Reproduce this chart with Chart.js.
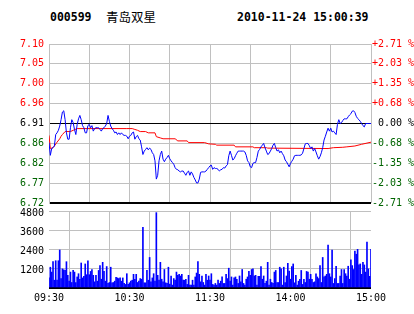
<!DOCTYPE html>
<html>
<head>
<meta charset="utf-8">
<script src="https://cdn.jsdelivr.net/npm/chart.js@4.4.1/dist/chart.umd.min.js"></script>
<style>
body { margin: 0; background: #fff; }
#wrap { position: relative; width: 414px; height: 314px; overflow: hidden; }
.title { position: absolute; top: 9px; font: bold 11.5px "DejaVu Sans Mono", monospace; line-height: 16px; color: #000; white-space: pre; }
canvas { position: absolute; left: 0; }
</style>
</head>
<body>
<div id="wrap">
  <div class="title" style="left:50px">000599</div>
  <div class="title" style="left:106px;font:12.5px 'Noto Sans CJK SC',sans-serif;line-height:16px">青岛双星</div>
  <div class="title" style="left:237px">2010-11-24 15:00:39</div>
  <canvas id="priceChart" width="414" height="184" style="top:30px"></canvas>
  <canvas id="volChart" width="414" height="114" style="top:200px"></canvas>
</div>
<script>
// Fechamento anterior e limites do eixo de preço
const prevClose = 6.91;
const priceMin = 6.7227;
const priceMax = 7.0973;

// Rótulos dos eixos (de baixo para cima)
const priceTickLabels = ['6.72', '6.77', '6.82', '6.86', '6.91', '6.96', '7.00', '7.05', '7.10'];
const pctTickLabels = ['-2.71 %', '-2.03 %', '-1.35 %', '-0.68 %', ' 0.00 %', '+0.68 %', '+1.35 %', '+2.03 %', '+2.71 %'];
const volTickLabels = ['', '1200', '2400', '3600', '4800'];
const timeTickMinutes = [0, 60, 120, 180, 240];
const timeTickLabels = ['09:30', '10:30', '11:30', '14:00', '15:00'];

// Preço minuto a minuto (0 = 09:30, 240 = 15:00)
const priceValues = [
  6.865, 6.835, 6.851, 6.853, 6.857, 6.884, 6.888, 6.894, 6.904, 6.919,
  6.937, 6.940, 6.919, 6.888, 6.873, 6.873, 6.900, 6.919, 6.912, 6.896,
  6.884, 6.908, 6.921, 6.929, 6.919, 6.905, 6.900, 6.888, 6.888, 6.905,
  6.908, 6.900, 6.905, 6.892, 6.898, 6.900, 6.900, 6.900, 6.896, 6.892,
  6.898, 6.900, 6.904, 6.910, 6.929, 6.915, 6.904, 6.898, 6.894, 6.888,
  6.890, 6.884, 6.888, 6.884, 6.888, 6.884, 6.882, 6.882, 6.880, 6.874,
  6.880, 6.882, 6.888, 6.890, 6.873, 6.879, 6.882, 6.874, 6.871, 6.855,
  6.837, 6.845, 6.849, 6.853, 6.848, 6.852, 6.849, 6.841, 6.837, 6.822,
  6.779, 6.788, 6.822, 6.837, 6.845, 6.826, 6.820, 6.826, 6.830, 6.835,
  6.827, 6.822, 6.818, 6.814, 6.806, 6.802, 6.801, 6.798, 6.796, 6.798,
  6.798, 6.793, 6.788, 6.795, 6.798, 6.788, 6.796, 6.791, 6.783, 6.777,
  6.770, 6.770, 6.779, 6.795, 6.796, 6.796, 6.796, 6.798, 6.802, 6.806,
  6.810, 6.812, 6.802, 6.806, 6.804, 6.804, 6.802, 6.798, 6.801, 6.802,
  6.806, 6.805, 6.810, 6.813, 6.834, 6.845, 6.835, 6.824, 6.827, 6.834,
  6.840, 6.845, 6.845, 6.845, 6.845, 6.845, 6.843, 6.835, 6.822, 6.818,
  6.808, 6.806, 6.816, 6.818, 6.818, 6.830, 6.845, 6.849, 6.855, 6.859,
  6.863, 6.853, 6.845, 6.837, 6.839, 6.845, 6.851, 6.859, 6.863, 6.853,
  6.845, 6.848, 6.841, 6.845, 6.839, 6.834, 6.824, 6.820, 6.814, 6.808,
  6.816, 6.821, 6.826, 6.834, 6.835, 6.835, 6.835, 6.835, 6.836, 6.840,
  6.851, 6.862, 6.863, 6.863, 6.858, 6.851, 6.855, 6.845, 6.851, 6.843,
  6.834, 6.826, 6.832, 6.841, 6.853, 6.871, 6.880, 6.890, 6.899, 6.892,
  6.899, 6.890, 6.892, 6.888, 6.884, 6.908, 6.919, 6.910, 6.912, 6.917,
  6.921, 6.921, 6.921, 6.926, 6.930, 6.933, 6.939, 6.940, 6.936, 6.927,
  6.922, 6.919, 6.915, 6.910, 6.905, 6.902, 6.910, 6.910, 6.910, 6.910,
  6.910
];

// Preço médio (linha vermelha)
const avgMinutes = [0, 1, 3, 4, 6, 8, 9, 10, 12, 16, 18, 21, 58, 62, 64, 66, 68, 72, 74, 79, 80, 83, 85, 94, 96, 103, 104, 116, 119, 124, 125, 138, 139, 152, 153, 162, 163, 208, 212, 219, 222, 228, 233, 240];
const avgValues = [6.882, 6.851, 6.853, 6.857, 6.866, 6.874, 6.880, 6.884, 6.891, 6.891, 6.894, 6.898, 6.898, 6.898, 6.896, 6.894, 6.891, 6.891, 6.888, 6.888, 6.879, 6.876, 6.874, 6.874, 6.869, 6.869, 6.865, 6.865, 6.862, 6.861, 6.859, 6.859, 6.855, 6.855, 6.853, 6.853, 6.852, 6.851, 6.853, 6.854, 6.855, 6.857, 6.861, 6.866];

// Volume por minuto
const volumeValues = [
  628, 1296, 992, 1640, 486, 1701, 486, 1701, 2369, 587,
  1195, 1134, 1094, 1640, 790, 425, 992, 344, 1094, 992,
  344, 689, 891, 547, 1559, 628, 729, 1499, 830, 1701,
  830, 1033, 1154, 790, 385, 790, 425, 1094, 1397, 547,
  1600, 1033, 425, 1337, 284, 344, 1296, 324, 344, 425,
  668, 628, 587, 628, 425, 628, 284, 223, 891, 223,
  324, 425, 486, 851, 547, 851, 344, 425, 587, 547,
  3787, 324, 324, 1094, 486, 1904, 385, 628, 891, 425,
  4698, 790, 486, 1600, 547, 385, 1154, 324, 284, 1296,
  243, 749, 182, 587, 486, 992, 790, 851, 749, 851,
  486, 486, 547, 223, 790, 182, 182, 486, 182, 689,
  932, 1640, 851, 385, 749, 344, 182, 851, 486, 749,
  486,
  891, 223, 182, 284, 182, 486, 284, 425, 689, 284,
  284, 851, 587, 1235, 425, 689, 182, 628, 689, 547,
  284, 749, 385, 1154, 284, 182, 547, 689, 1033, 790,
  1154, 1195, 749, 790, 182, 729, 729, 1337, 547, 749,
  284, 425, 1600, 182, 547, 344, 284, 992, 1094, 344,
  344, 1296, 1195, 182, 1296, 344, 749, 1539, 1053, 547,
  1337, 1499, 324, 790, 182, 425, 547, 1094, 223, 547,
  344, 1033, 992, 547, 851, 547, 344, 385, 891, 689,
  587, 1397, 344, 1904, 689, 749, 851, 2673, 891, 689,
  2369, 284, 587, 1357, 284, 284, 749, 1154, 284, 1154,
  891, 749, 1357, 547, 1762, 1397, 1154, 2309, 2106, 2410,
  1438, 1499, 851, 1600, 1438, 992, 2855, 1195, 729, 2410
];

const gridGray = '#c0c0c0';
const axisFont = { family: 'DejaVu Sans Mono', size: 10 };

function labelColor(index) {
    if (index < 4) return '#006400';
    if (index === 4) return '#000000';
    return '#ff0000';
}

function priceTicks(scale) {
    const step = (priceMax - priceMin) / 8;
    scale.ticks = priceTickLabels.map((_, i) => ({ value: priceMin + i * step }));
}

const priceData = priceValues.map((v, i) => ({ x: i, y: v }));
const avgData = avgMinutes.map((m, i) => ({ x: m, y: avgValues[i] }));
const volData = volumeValues.map((v, i) => ({ x: i, y: v }));

// Gráfico de preço
new Chart(document.getElementById('priceChart'), {
    type: 'line',
    data: {
        datasets: [
            { data: priceData, borderColor: '#0000ff', borderWidth: 1, pointRadius: 0, tension: 0 },
            { data: avgData, borderColor: '#ff0000', borderWidth: 1, pointRadius: 0, tension: 0 }
        ]
    },
    options: {
        responsive: false,
        animation: false,
        layout: { padding: { top: 14, bottom: 10, left: 0, right: 0 } },
        plugins: { legend: { display: false }, tooltip: { enabled: false } },
        scales: {
            x: {
                type: 'linear', min: 0, max: 240,
                ticks: { display: false, stepSize: 30 },
                grid: { color: gridGray, drawTicks: false },
                border: { display: false },
                afterFit: s => { s.height = 0; }
            },
            y: {
                position: 'left', min: priceMin, max: priceMax,
                afterBuildTicks: priceTicks,
                ticks: {
                    font: axisFont, padding: 5,
                    color: ctx => labelColor(ctx.index),
                    callback: (v, i) => priceTickLabels[i]
                },
                grid: {
                    drawTicks: false,
                    color: ctx => (ctx.index === 0 || ctx.index === 4) ? '#000000' : gridGray,
                    lineWidth: ctx => ctx.index === 0 ? 2 : 1
                },
                border: { color: gridGray },
                afterFit: s => { s.width = 49; }
            },
            y1: {
                position: 'right', min: priceMin, max: priceMax,
                afterBuildTicks: priceTicks,
                ticks: {
                    font: axisFont, padding: 1,
                    color: ctx => labelColor(ctx.index),
                    callback: (v, i) => pctTickLabels[i]
                },
                grid: { display: false, drawTicks: false },
                border: { display: false },
                afterFit: s => { s.width = 43; }
            }
        }
    }
});

// Gráfico de volume
new Chart(document.getElementById('volChart'), {
    type: 'bar',
    data: {
        datasets: [{ data: volData, backgroundColor: '#0000ff', barThickness: 1 }]
    },
    options: {
        responsive: false,
        animation: false,
        layout: { padding: { top: 9, right: 43, left: 0, bottom: 0 } },
        plugins: { legend: { display: false }, tooltip: { enabled: false } },
        scales: {
            x: {
                type: 'linear', min: 0, max: 240, offset: false,
                afterBuildTicks: s => { s.ticks = [0, 30, 60, 90, 120, 150, 180, 210, 240].map(v => ({ value: v })); },
                ticks: {
                    font: axisFont, color: '#000', padding: 4,
                    autoSkip: false, maxRotation: 0,
                    callback: v => {
                        const idx = timeTickMinutes.indexOf(v);
                        return idx >= 0 ? timeTickLabels[idx] : '';
                    }
                },
                grid: { color: gridGray, drawTicks: false },
                border: { display: false },
                afterFit: s => { s.height = 26; }
            },
            y: {
                min: 0, max: 4800,
                afterBuildTicks: s => { s.ticks = volTickLabels.map((_, i) => ({ value: i * 1200 })); },
                ticks: {
                    font: axisFont, color: '#000', padding: 5, labelOffset: 2,
                    callback: (v, i) => volTickLabels[i]
                },
                grid: {
                    drawTicks: false,
                    color: ctx => ctx.index === 0 ? '#000000' : gridGray,
                    lineWidth: ctx => ctx.index === 0 ? 2 : 1
                },
                border: { display: false },
                afterFit: s => { s.width = 49; }
            }
        }
    }
});
</script>
</body>
</html>
